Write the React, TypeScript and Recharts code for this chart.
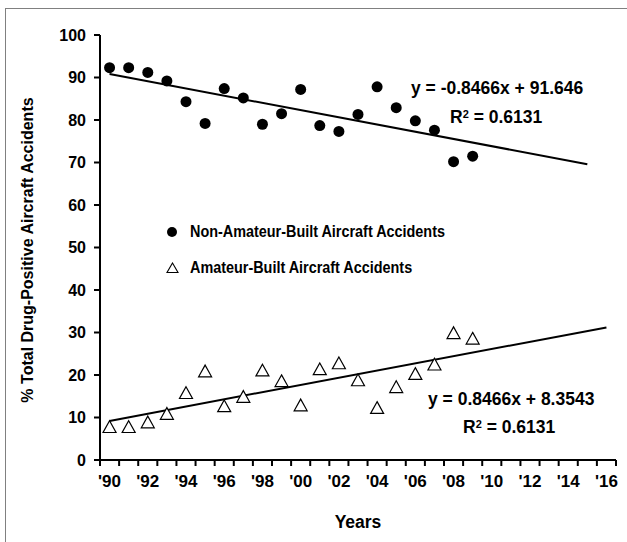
import React from 'react'
import { ComposedChart, Scatter, Line, XAxis, YAxis } from 'recharts'

const years = [
  1990, 1991, 1992, 1993, 1994, 1995, 1996, 1997, 1998, 1999,
  2000, 2001, 2002, 2003, 2004, 2005, 2006, 2007, 2008, 2009,
]
const nonAmateur = [
  92.3, 92.3, 91.2, 89.2, 84.3, 79.2, 87.4, 85.2, 79.0, 81.5,
  87.2, 78.7, 77.3, 81.3, 87.8, 82.9, 79.8, 77.6, 70.2, 71.5,
]
const amateur = [
  7.7, 7.7, 8.8, 10.8, 15.7, 20.8, 12.6, 14.8, 21.0, 18.5,
  12.8, 21.3, 22.7, 18.7, 12.2, 17.1, 20.2, 22.4, 29.8, 28.5,
]
// trendline ends as drawn (Excel forward forecast)
const nonAmateurTrend = [
  { x: 1990, y: 90.8 },
  { x: 2015, y: 69.6 },
]
const amateurTrend = [
  { x: 1990, y: 9.2 },
  { x: 2016, y: 31.2 },
]
const yTicks = [0, 10, 20, 30, 40, 50, 60, 70, 80, 90, 100]
const firstYear = 1990
const lastYear = 2016

const nonAmateurPts = years.map((x, i) => ({ x, y: nonAmateur[i] }))
const amateurPts = years.map((x, i) => ({ x, y: amateur[i] }))

// tick marks sit on the year boundaries, labels in between
const boundaryTicks: number[] = []
for (let y = firstYear; y <= lastYear + 1; y++) boundaryTicks.push(y - 0.5)

const W = 627
const H = 542
const margin = { top: 35, right: 11, left: 20, bottom: 10 }
const yAxisWidth = 80
const plotWidth = W - margin.left - margin.right - yAxisWidth
const halfStep = plotWidth / (lastYear - firstYear + 1) / 2

const font = '"Liberation Sans", Arial, sans-serif'

const YearTick = (props: any) => {
  const { x, y, payload } = props
  const year = payload.value + 0.5
  if (year > lastYear || (year - firstYear) % 2 !== 0) return <g />
  return (
    <text
      x={x + halfStep}
      y={y}
      dy="0.71em"
      textAnchor="middle"
      fontFamily={font}
      fontWeight="bold"
      fontSize={17}
      fill="#000"
    >
      {"'" + String(year).slice(2)}
    </text>
  )
}

const Dot = (props: any) => {
  const { cx, cy } = props
  return <circle cx={cx} cy={cy} r={5.5} fill="#000" />
}

const Tri = (props: any) => {
  const { cx, cy } = props
  const s = 6.5
  return (
    <polygon
      points={`${cx},${cy - s} ${cx + s},${cy + s * 0.8} ${cx - s},${cy + s * 0.8}`}
      fill="#fff"
      stroke="#000"
      strokeWidth={1.2}
    />
  )
}

const textStyle: React.CSSProperties = {
  position: 'absolute',
  fontFamily: font,
  fontWeight: 'bold',
  color: '#000',
  whiteSpace: 'nowrap',
  lineHeight: 1,
}

const sup: React.CSSProperties = { fontSize: 11, verticalAlign: 'top', lineHeight: 1 }

export default function App() {
  return (
    <div
      style={{
        position: 'absolute',
        top: 0,
        left: 0,
        width: W,
        height: H,
        overflow: 'hidden',
        background: '#fff',
      }}
    >
      <div
        style={{
          position: 'absolute',
          left: 5,
          top: 8,
          width: 700,
          height: 700,
          border: '1px solid #808080',
        }}
      />
      <ComposedChart width={W} height={H} margin={margin}>
        <XAxis
          dataKey="x"
          type="number"
          domain={[firstYear - 0.5, lastYear + 0.5]}
          ticks={boundaryTicks}
          interval={0}
          tick={<YearTick />}
          tickSize={6}
          tickMargin={9}
          height={72}
          stroke="#000"
          strokeWidth={2}
          allowDataOverflow
        />
        <YAxis
          type="number"
          domain={[0, 100]}
          ticks={yTicks}
          interval={0}
          width={yAxisWidth}
          tickSize={6}
          tickMargin={8}
          stroke="#000"
          strokeWidth={2}
          tick={{ fontFamily: font, fontWeight: 'bold', fontSize: 16, fill: '#000' }}
        />
        <Line
          data={nonAmateurTrend}
          dataKey="y"
          stroke="#000"
          strokeWidth={2}
          dot={false}
          isAnimationActive={false}
        />
        <Line
          data={amateurTrend}
          dataKey="y"
          stroke="#000"
          strokeWidth={2}
          dot={false}
          isAnimationActive={false}
        />
        <Scatter data={nonAmateurPts} dataKey="y" shape={<Dot />} isAnimationActive={false} />
        <Scatter data={amateurPts} dataKey="y" shape={<Tri />} isAnimationActive={false} />
      </ComposedChart>

      {/* axis titles */}
      <div
        style={{
          ...textStyle,
          left: 28,
          top: 250,
          fontSize: 16,
          transform: 'translate(-50%, -50%) rotate(-90deg)',
        }}
      >
        % Total Drug-Positive Aircraft Accidents
      </div>
      <div
        style={{
          ...textStyle,
          left: 358,
          top: 523,
          fontSize: 17.5,
          transform: 'translate(-50%, -50%)',
        }}
      >
        Years
      </div>

      {/* legend */}
      <svg style={{ position: 'absolute', left: 166, top: 226 }} width={12} height={12}>
        <circle cx={6} cy={6} r={5} fill="#000" />
      </svg>
      <div
        style={{
          ...textStyle,
          left: 190,
          top: 224,
          fontSize: 16,
          transform: 'scaleX(0.9)',
          transformOrigin: 'left center',
        }}
      >
        Non-Amateur-Built Aircraft Accidents
      </div>
      <svg style={{ position: 'absolute', left: 166, top: 262 }} width={13} height={12}>
        <polygon points="6.5,1 12,10.5 1,10.5" fill="#fff" stroke="#000" strokeWidth={1.1} />
      </svg>
      <div
        style={{
          ...textStyle,
          left: 190,
          top: 260,
          fontSize: 16,
          transform: 'scaleX(0.9)',
          transformOrigin: 'left center',
        }}
      >
        Amateur-Built Aircraft Accidents
      </div>

      {/* trendline equations */}
      <div style={{ ...textStyle, left: 411, top: 80, fontSize: 17.5 }}>
        y = -0.8466x + 91.646
      </div>
      <div style={{ ...textStyle, left: 450, top: 109, fontSize: 17.5 }}>
        R<sup style={sup}>2</sup> = 0.6131
      </div>
      <div style={{ ...textStyle, left: 428, top: 391, fontSize: 17.5 }}>
        y = 0.8466x + 8.3543
      </div>
      <div style={{ ...textStyle, left: 463, top: 419, fontSize: 17.5 }}>
        R<sup style={sup}>2</sup> = 0.6131
      </div>
    </div>
  )
}
